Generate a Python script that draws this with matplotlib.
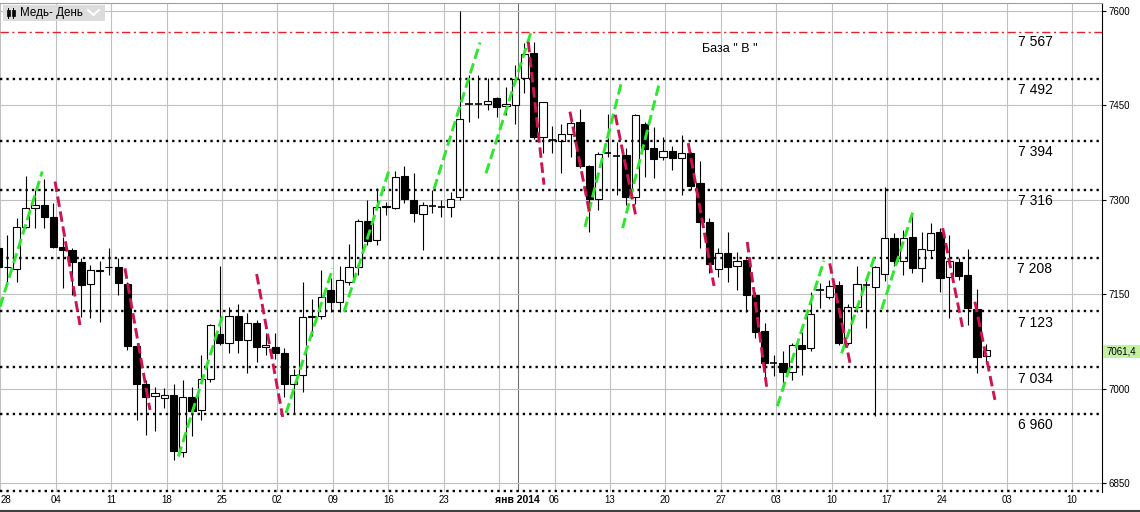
import matplotlib
matplotlib.use('Agg')
import matplotlib.pyplot as plt
from matplotlib.patches import Rectangle
from matplotlib.lines import Line2D

plt.rcParams['font.family'] = ['Liberation Sans', 'DejaVu Sans']

# ── Daily copper candles (bar 0 = 28 Oct 2013) ───────────────────────────────
opens = [7223, 7193, 7190, 7257, 7287, 7292, 7272, 7225, 7220, 7201,
         7166, 7187, 7193, 7194, 7166, 7068, 7008, 6989, 6985, 6990,
         6900, 6986, 6966, 7016, 7087, 7072, 7116, 7078, 7104, 7066,
         7066, 7056, 7007, 7021, 7114, 7116, 7157, 7137, 7170, 7193,
         7266, 7236, 7289, 7287, 7338, 7300, 7277, 7290, 7289, 7288,
         7304, 7453, 7453, 7453, 7461, 7449, 7451, 7493, 7533, 7399,
         7395, 7394, 7404, 7424, 7354, 7302, 7374, 7370, 7371, 7304,
         7420, 7383, 7368, 7377, 7366, 7374, 7326, 7265, 7190, 7216,
         7195, 7204, 7149, 7092, 7040, 7040, 7026, 7069, 7064, 7156,
         7145, 7165, 7072, 7129, 7165, 7161, 7182, 7239, 7202, 7241,
         7191, 7221, 7249, 7177, 7201, 7181, 7126, 7052]
highs = [7236, 7244, 7271, 7338, 7316, 7333, 7295, 7241, 7223, 7208,
         7196, 7202, 7223, 7208, 7169, 7072, 7014, 7003, 7001, 7007,
         7013, 7003, 7053, 7102, 7195, 7130, 7134, 7120, 7109, 7088,
         7089, 7065, 7031, 7169, 7143, 7188, 7175, 7195, 7230, 7269,
         7300, 7318, 7297, 7345, 7353, 7342, 7297, 7316, 7300, 7313,
         7600, 7498, 7498, 7493, 7464, 7479, 7514, 7549, 7551, 7455,
         7417, 7420, 7437, 7445, 7356, 7376, 7437, 7392, 7382, 7437,
         7424, 7416, 7400, 7386, 7403, 7376, 7361, 7271, 7223, 7249,
         7217, 7206, 7154, 7104, 7053, 7060, 7073, 7090, 7154, 7167,
         7173, 7171, 7134, 7195, 7178, 7195, 7320, 7248, 7252, 7279,
         7249, 7263, 7255, 7244, 7207, 7222, 7159, 7071]
lows = [7181, 7170, 7170, 7255, 7255, 7255, 7223, 7160, 7149, 7114,
        7112, 7106, 7181, 7149, 7062, 6950, 6926, 6932, 6969, 6887,
        6892, 6925, 6950, 7011, 7069, 7057, 7057, 7024, 7043, 7053,
        7047, 6986, 6961, 6995, 7084, 7110, 7122, 7122, 7165, 7181,
        7228, 7228, 7276, 7285, 7295, 7265, 7220, 7279, 7273, 7273,
        7300, 7424, 7430, 7443, 7432, 7435, 7420, 7469, 7396, 7375,
        7374, 7342, 7368, 7350, 7249, 7284, 7368, 7308, 7292, 7294,
        7337, 7334, 7363, 7347, 7308, 7316, 7223, 7183, 7178, 7170,
        7156, 7122, 7080, 7014, 7020, 6998, 7014, 7022, 7060, 7128,
        7143, 7070, 7069, 7122, 7096, 6956, 7171, 7195, 7181, 7183,
        7170, 7207, 7154, 7112, 7173, 7101, 7024, 7040]
closes = [7193, 7194, 7256, 7287, 7291, 7272, 7225, 7220, 7201, 7164,
          7188, 7188, 7194, 7167, 7067, 7008, 6987, 6993, 6990, 6901,
          6986, 6965, 7016, 7101, 7073, 7116, 7078, 7105, 7066, 7069,
          7056, 7007, 7021, 7113, 7115, 7145, 7137, 7172, 7193, 7266,
          7235, 7289, 7290, 7337, 7302, 7279, 7292, 7290, 7289, 7302,
          7428, 7453, 7453, 7457, 7447, 7452, 7492, 7531, 7399, 7455,
          7395, 7404, 7422, 7353, 7302, 7373, 7374, 7370, 7304, 7435,
          7381, 7365, 7377, 7366, 7374, 7322, 7265, 7198, 7216, 7194,
          7202, 7148, 7090, 7040, 7040, 7026, 7069, 7063, 7118, 7156,
          7163, 7072, 7130, 7166, 7165, 7193, 7239, 7202, 7240, 7191,
          7222, 7247, 7176, 7203, 7179, 7128, 7051, 7061.4]
last_price = '7061,4'

# ── Axis labels ──────────────────────────────────────────────────────────────
price_ticks = [6850, 7000, 7150, 7300, 7450, 7600]
week_labels = ['28', '04', '11', '18', '25', '02', '09', '16', '23', '',
               '06', '13', '20', '27', '03', '10', '17', '24', '03', '10']
month_label = 'янв 2014'

# ── Drawn objects ────────────────────────────────────────────────────────────
base_level = 7567
levels = [7492, 7394, 7316, 7208, 7123, 7034, 6960]
base_text = 'База " В "'

# (bar0, price0, bar1, price1)
green_lines = [
    (0.21, 7130, 4.79, 7345),
    (19.52, 6892, 24.39, 7120),
    (31.18, 6961, 36.23, 7191),
    (37.46, 7122, 42.44, 7352),
    (47.20, 7317, 52.18, 7550),
    (52.83, 7342, 57.78, 7570),
    (63.55, 7257, 67.52, 7488),
    (67.63, 7255, 71.59, 7485),
    (84.37, 6972, 89.42, 7203),
    (91.34, 7056, 94.95, 7212),
    (95.67, 7126, 99.10, 7283),
]
red_lines = [
    (6.17, 7329, 8.87, 7101),
    (13.74, 7191, 16.45, 6966),
    (28.00, 7182, 30.82, 6955),
    (57.41, 7551, 59.11, 7324),
    (61.92, 7440, 64.02, 7281),
    (66.83, 7435, 69.07, 7273),
    (74.73, 7390, 77.52, 7163),
    (81.12, 7233, 83.22, 7003),
    (90.05, 7199, 92.24, 7041),
    (102.28, 7255, 104.42, 7098),
    (105.77, 7138, 107.94, 6982),
]

W, H = 1140, 512
GRID = '#c0c0c0'
GREEN = '#2ee62e'
CRIMSON = '#cc1452'


def fx(px):
    return px / W


def fy(py):
    return 1 - py / H


fig = plt.figure(figsize=(W / 100, H / 100), dpi=100)
ax = fig.add_axes([0, fy(492), fx(1102), fy(3) - fy(492)])
ax.set_xlim(0.21, 119.53)
ax.set_ylim(6835.7, 7612.7)

# ── Grid ─────────────────────────────────────────────────────────────────────
week_pos = [0.25 + 6 * w for w in range(18)] + [102.25 + 7 * k for k in (1, 2)]
for x in week_pos:
    ax.axvline(x, color=GRID, lw=0.8, zorder=1)
ax.axvline(56.25, color='#707070', lw=0.8, zorder=1)
for p in price_ticks:
    ax.axhline(p, color=GRID, lw=0.8, zorder=1)

# ── Candles ──────────────────────────────────────────────────────────────────
bw = 0.78
for i, (o, h, l, c) in enumerate(zip(opens, highs, lows, closes)):
    ax.vlines(i, l, h, color='black', lw=0.8, zorder=3)
    if o == c:
        ax.hlines(o, i - bw / 2, i + bw / 2, color='black', lw=1.2, zorder=4)
    else:
        ax.add_patch(Rectangle((i - bw / 2, min(o, c)), bw, abs(c - o),
                               facecolor='white' if c > o else 'black',
                               edgecolor='black', lw=0.8, zorder=4))

# ── Levels & trend lines ─────────────────────────────────────────────────────
ax.axhline(base_level, color='#e8202a', lw=1.0,
           linestyle=(0, (6, 2.5, 1.5, 2.5)), zorder=5)
ax.text(112.27, base_level - 17, f'{base_level // 1000} {base_level % 1000:03d}',
        ha='center', va='center', fontsize=10, zorder=6)
for lv in levels:
    ax.axhline(lv, color='black', lw=1.7, dashes=(1, 1.7), zorder=5)
    ax.text(112.27, lv - 18, f'{lv // 1000} {lv % 1000:03d}',
            ha='center', va='center', fontsize=10, zorder=6)

for x0, p0, x1, p1 in green_lines:
    ax.plot([x0, x1], [p0, p1], color=GREEN, lw=2.1, dashes=(3.6, 1.6),
            dash_capstyle='butt', zorder=6)
for x0, p0, x1, p1 in red_lines:
    ax.plot([x0, x1], [p0, p1], color=CRIMSON, lw=2.1, dashes=(3.6, 1.6),
            dash_capstyle='butt', zorder=6)

ax.text(79.25, 7540, base_text, ha='center', va='center', fontsize=9, zorder=6)

# bottom edge dotted
ax.axhline(6836.5, color='black', lw=1.7, dashes=(1, 1.7), zorder=5, clip_on=False)

# ── Axes styling ─────────────────────────────────────────────────────────────
for s in ('left', 'bottom'):
    ax.spines[s].set_visible(False)
ax.spines['top'].set_color('#a0a0a0')
ax.spines['right'].set_color('black')
ax.spines['right'].set_linewidth(0.8)

ax.yaxis.tick_right()
ax.set_yticks(price_ticks)
ax.set_yticklabels([str(p) for p in price_ticks])
ax.tick_params(axis='y', length=3, width=0.8, pad=1.5, labelsize=7)

xt = week_pos + [56.25]
xl = week_labels + [month_label]
ax.set_xticks(xt)
ax.set_xticklabels(xl)
ax.tick_params(axis='x', length=0, pad=2.5, labelsize=7)
for lab in ax.get_xticklabels():
    if lab.get_text() == month_label:
        lab.set_fontweight('bold')
        lab.set_fontsize(7.5)
    elif lab.get_text() == week_labels[0]:
        lab.set_horizontalalignment('left')

# ── Window decorations ───────────────────────────────────────────────────────
fig.add_artist(Rectangle((fx(3), fy(21)), fx(102), fy(5) - fy(21),
                         transform=fig.transFigure, facecolor='#dcdcdc',
                         edgecolor='none', zorder=10))
for cx in (8, 13):
    fig.add_artist(Line2D([fx(cx), fx(cx)], [fy(8), fy(18)],
                          transform=fig.transFigure, color='black', lw=0.7, zorder=11))
    fig.add_artist(Rectangle((fx(cx - 1.5), fy(16)), fx(3), fy(10) - fy(16),
                             transform=fig.transFigure, facecolor='black',
                             edgecolor='black', lw=0.5, zorder=11))
fig.text(fx(20), fy(13), 'Медь- День', fontsize=8.4, va='center', ha='left', zorder=11)
fig.add_artist(Line2D([fx(88), fx(93.5), fx(99)], [fy(10), fy(15), fy(10)],
                      transform=fig.transFigure, color='white', lw=1.5, zorder=11))

fig.add_artist(Rectangle((fx(1103), fy(358)), fx(40), fy(345) - fy(358),
                         transform=fig.transFigure, facecolor='#c4f0a0',
                         edgecolor='none', zorder=10))
fig.text(fx(1106), fy(351.5), last_price, fontsize=7, va='center', ha='left', zorder=11)

fig.add_artist(Line2D([0, 1], [fy(511), fy(511)], transform=fig.transFigure,
                      color='#404040', lw=1.5))

fig.savefig('out.png', dpi=100)
